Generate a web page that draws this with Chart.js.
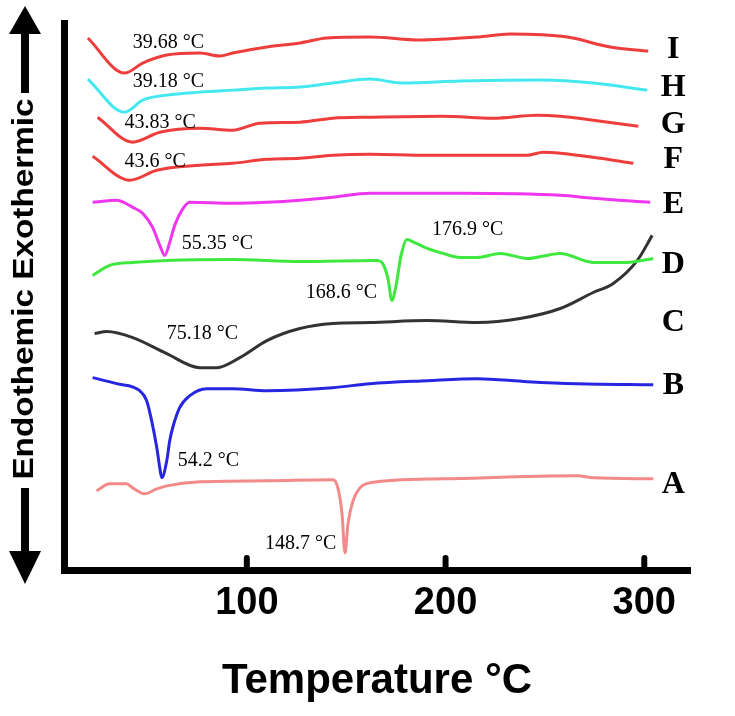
<!DOCTYPE html>
<html>
<head>
<meta charset="utf-8">
<script src="https://cdn.jsdelivr.net/npm/chart.js@4.4.1/dist/chart.umd.min.js"></script>
<style>
  html, body { margin: 0; padding: 0; background: #fff; }
  #wrap { width: 735px; height: 716px; position: relative; }
</style>
</head>
<body>
<div id="wrap"><canvas id="dscChart"></canvas></div>
<script>
// DSC thermograms, stacked curves (temperature in °C, heat flow in arbitrary offset units)
const tickValues = [100, 200, 300];

const tempI = [20, 38.5, 47.6, 59.7, 76.3, 86.4, 92.9, 110.1, 126.7, 140.3, 162, 187.2, 215.9, 232.5, 261.2, 282.9, 302];
const flowI = [53.1, 49.6, 50.6, 51.4, 51.6, 51.3, 51.6, 52.2, 52.6, 53.1, 53.2, 52.9, 53.2, 53.5, 53.2, 52.2, 51.8];

const tempH = [20, 38.5, 47.6, 59.7, 76.3, 92.9, 110.1, 126.7, 143.3, 162, 178.6, 207.3, 249.1, 274.3, 301.5];
const flowH = [49.0, 45.7, 46.9, 47.4, 47.7, 47.9, 48.1, 48.2, 48.6, 49.0, 48.6, 48.8, 48.9, 48.6, 47.9];

const tempG = [24.9, 42.6, 56.2, 76.3, 92.9, 106.5, 126.7, 143.3, 162, 198.7, 223.9, 246.1, 257.7, 274.3, 297];
const flowG = [45.2, 42.7, 43.7, 44.1, 43.9, 44.6, 44.7, 45.1, 45.2, 45.3, 45.1, 45.4, 45.3, 44.9, 44.3];

const tempF = [22.4, 41.1, 54.7, 76.3, 92.9, 110.1, 126.7, 143.3, 162, 190.7, 241.1, 249.1, 257.7, 274.3, 294.5];
const flowF = [41.3, 38.9, 39.9, 40.4, 40.6, 41.0, 41.1, 41.4, 41.5, 41.4, 41.4, 41.7, 41.6, 41.2, 40.6];

const tempE = [22.4, 34.5, 42.6, 47.6, 52.6, 56.2, 58.7, 61.2, 63.7, 67.3, 71.3, 92.9, 110.1, 126.7, 143.3, 162, 207.3, 257.7, 274.3, 303];
const flowE = [36.7, 36.9, 36.2, 35.6, 34.2, 32.4, 31.4, 32.7, 34.4, 35.9, 36.7, 36.6, 36.7, 36.9, 37.2, 37.6, 37.6, 37.4, 37.1, 36.7];

const tempD = [22.4, 31, 42.6, 59.7, 92.9, 126.7, 165.5, 168, 171, 173, 175.1, 177.6, 180.6, 183.1, 190.7, 198.7, 207.3, 215.9, 227.5, 241.1, 257.7, 274.3, 291.4, 304.5];
const flowD = [29.4, 30.4, 30.7, 30.9, 31.0, 30.8, 30.9, 30.7, 29.1, 26.9, 28.4, 31.4, 33.0, 32.8, 32.1, 31.6, 31.2, 31.2, 31.6, 31.1, 31.6, 30.7, 30.7, 31.1];

const tempC = [23.4, 29.5, 42.6, 59.7, 76.3, 84.9, 96.5, 110.1, 126.7, 143.3, 162, 190.7, 215.9, 237.5, 257.7, 274.3, 284.4, 296.5, 304];
const flowC = [23.6, 23.8, 23.2, 21.6, 20.2, 20.2, 21.2, 22.9, 24.1, 24.6, 24.7, 24.9, 24.7, 25.1, 26.1, 27.7, 28.6, 30.9, 33.4];

const tempB = [22.4, 34.5, 46.1, 49.6, 52.1, 54.7, 56.2, 57.2, 59.7, 61.2, 62.7, 66.2, 71.3, 79.8, 92.9, 110.1, 143.3, 162, 190.7, 215.9, 241.1, 266.2, 304.5];
const flowB = [19.2, 18.6, 17.9, 16.9, 14.9, 12.2, 10.2, 9.2, 10.9, 12.9, 14.2, 16.2, 17.4, 18.1, 18.1, 17.9, 18.2, 18.6, 18.9, 19.1, 18.8, 18.6, 18.5];

const tempA = [24.4, 31, 39.5, 42.6, 48.6, 54.7, 59.7, 76.3, 110.1, 143.3, 145.8, 147.9, 149.4, 150.9, 153.4, 156.9, 162, 198.7, 266.2, 274.3, 304.5];
const flowA = [7.9, 8.6, 8.6, 8.2, 7.6, 8.1, 8.4, 8.8, 8.9, 9.0, 8.2, 5.6, 1.7, 4.6, 6.9, 8.2, 8.7, 9.1, 9.4, 9.2, 9.1];

const curveNames = ['I', 'H', 'G', 'F', 'E', 'D', 'C', 'B', 'A'];
const curveTemps = [tempI, tempH, tempG, tempF, tempE, tempD, tempC, tempB, tempA];
const curveFlows = [flowI, flowH, flowG, flowF, flowE, flowD, flowC, flowB, flowA];
const curveColors = ['#ee3d3d', '#45e8ef', '#ee3d3d', '#ee3d3d', '#ee36ee', '#3fe83f', '#333333', '#2626e0', '#f28a8a'];

// where each curve letter sits (temperature, flow)
const letterTemp = 314.6;
const letterFlow = [52.0, 48.2, 44.5, 41.1, 36.6, 30.6, 24.8, 18.5, 8.6];

// peak temperature notes, anchored at (temperature, flow) left edge
const peakTexts = ['39.68 °C', '39.18 °C', '43.83 °C', '43.6 °C', '55.35 °C', '176.9 °C', '168.6 °C', '75.18 °C', '54.2 °C', '148.7 °C'];
const peakTextTemp = [42.6, 42.6, 38.5, 38.5, 67.3, 193.2, 129.7, 59.7, 65.2, 109.1];
const peakTextFlow = [52.6, 48.7, 44.6, 40.8, 32.6, 34.0, 27.7, 23.6, 10.9, 2.6];

const sans = "'Liberation Sans', Arial, sans-serif";
const serif = "'Liberation Serif', 'Times New Roman', serif";

const datasets = curveNames.map((name, i) => ({
  label: name,
  data: curveTemps[i].map((t, k) => ({ x: t, y: curveFlows[i][k] })),
  borderColor: curveColors[i],
  borderWidth: 3,
  pointRadius: 0,
  cubicInterpolationMode: 'monotone',
  fill: false
}));

function drawArrow(ctx, x, shaftFrom, shaftTo, tipY) {
  ctx.fillRect(x - 4, Math.min(shaftFrom, shaftTo), 8, Math.abs(shaftTo - shaftFrom));
  ctx.beginPath();
  ctx.moveTo(x - 16, shaftTo);
  ctx.lineTo(x + 16, shaftTo);
  ctx.lineTo(x, tipY);
  ctx.closePath();
  ctx.fill();
}

const decorations = {
  id: 'decorations',
  afterDraw(chart) {
    const { ctx, chartArea, scales: { x, y } } = chart;
    ctx.save();

    // inward tick marks
    ctx.strokeStyle = '#000';
    ctx.lineWidth = 6;
    ctx.lineCap = 'round';
    tickValues.forEach(v => {
      const px = x.getPixelForValue(v);
      ctx.beginPath();
      ctx.moveTo(px, chartArea.bottom);
      ctx.lineTo(px, chartArea.bottom - 12);
      ctx.stroke();
    });

    // peak notes
    ctx.fillStyle = '#000';
    ctx.font = '20px ' + serif;
    ctx.textAlign = 'left';
    ctx.textBaseline = 'middle';
    peakTexts.forEach((txt, i) => {
      ctx.fillText(txt, x.getPixelForValue(peakTextTemp[i]), y.getPixelForValue(peakTextFlow[i]));
    });

    // curve letters
    ctx.font = 'bold 32px ' + serif;
    ctx.textAlign = 'center';
    curveNames.forEach((name, i) => {
      ctx.fillText(name, x.getPixelForValue(letterTemp), y.getPixelForValue(letterFlow[i]) + 1);
    });

    // vertical title with arrows
    ctx.fillStyle = '#000';
    drawArrow(ctx, 25, 93, 34, 6);
    drawArrow(ctx, 25, 488, 551, 584);
    ctx.translate(25, 289);
    ctx.rotate(-Math.PI / 2);
    ctx.scale(1.11, 1);
    ctx.font = 'bold 30px ' + sans;
    ctx.textAlign = 'center';
    ctx.textBaseline = 'middle';
    ctx.fillText('Endothemic Exothermic', 0, 0);

    ctx.restore();
  }
};

new Chart(document.getElementById('dscChart'), {
  type: 'line',
  data: { datasets },
  options: {
    responsive: true,
    maintainAspectRatio: false,
    animation: false,
    layout: { padding: { left: 56, right: 45, top: 23, bottom: 5 } },
    plugins: {
      legend: { display: false },
      tooltip: { enabled: false }
    },
    scales: {
      x: {
        type: 'linear',
        min: 8,
        max: 323,
        afterBuildTicks: scale => { scale.ticks = tickValues.map(v => ({ value: v })); },
        grid: { display: false },
        border: { display: true, color: '#000', width: 7 },
        ticks: {
          color: '#000',
          padding: 3,
          font: { family: sans, size: 38, weight: 'bold' }
        },
        title: {
          display: true,
          text: 'Temperature °C',
          color: '#000',
          font: { family: sans, size: 42, weight: 'bold' },
          padding: { top: 27, bottom: 4 }
        }
      },
      y: {
        type: 'linear',
        min: 0,
        max: 54.6,
        grid: { display: false },
        border: { display: true, color: '#000', width: 7 },
        ticks: { display: false }
      }
    }
  },
  plugins: [decorations]
});
</script>
</body>
</html>
